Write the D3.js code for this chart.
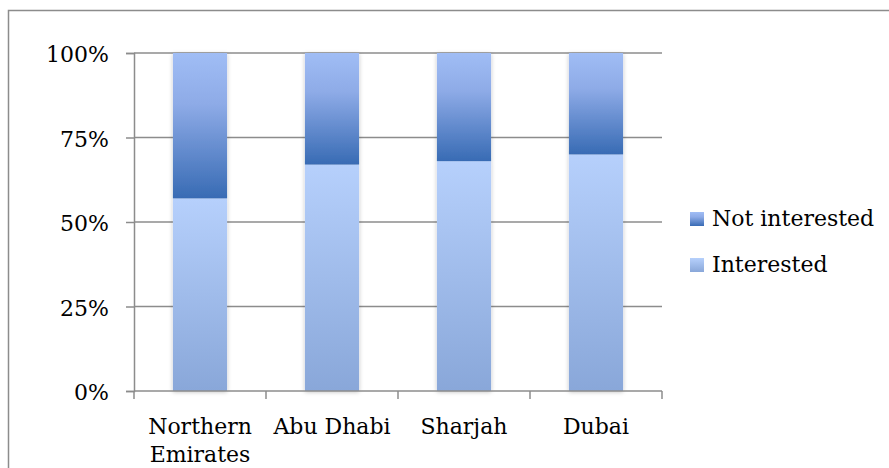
<!DOCTYPE html>
<html>
<head>
<meta charset="utf-8">
<script src="https://cdn.jsdelivr.net/npm/d3@7"></script>
<style>
  body { margin: 0; background: #fff; }
  svg { display: block; font-family: "DejaVu Serif", serif; }
</style>
</head>
<body>
<svg id="chart" width="889" height="468"></svg>
<script>
// data
var categories = ["Northern Emirates", "Abu Dhabi", "Sharjah", "Dubai"];
var interested = [0.57, 0.67, 0.68, 0.70];
var notInterested = [0.43, 0.33, 0.32, 0.30];
var seriesNames = ["Interested", "Not interested"];
var yTicks = [0, 0.25, 0.5, 0.75, 1];

var svg = d3.select("#chart"),
    width = +svg.attr("width"),
    height = +svg.attr("height");

var plot = {left: 134, right: 662, top: 53, bottom: 391};

// outer frame (runs off the right and bottom edges)
svg.append("rect")
    .attr("x", 8.5).attr("y", 10.5)
    .attr("width", 900).attr("height", 500)
    .attr("fill", "none")
    .attr("stroke", "#8c8c8c")
    .attr("stroke-width", 1.5);

var defs = svg.append("defs");

var gradInt = defs.append("linearGradient").attr("id", "gInt")
    .attr("x1", 0).attr("y1", 0).attr("x2", 0).attr("y2", 1);
gradInt.append("stop").attr("offset", "0%").attr("stop-color", "#b6d0fc");
gradInt.append("stop").attr("offset", "100%").attr("stop-color", "#89a7d9");

var gradNot = defs.append("linearGradient").attr("id", "gNot")
    .attr("x1", 0).attr("y1", 0).attr("x2", 0).attr("y2", 1);
gradNot.append("stop").attr("offset", "0%").attr("stop-color", "#a0bdf5");
gradNot.append("stop").attr("offset", "35%").attr("stop-color", "#8eabe7");
gradNot.append("stop").attr("offset", "100%").attr("stop-color", "#386bb4");

var shadow = defs.append("filter").attr("id", "shadow")
    .attr("x", "-30%").attr("y", "-5%").attr("width", "160%").attr("height", "110%");
shadow.append("feDropShadow")
    .attr("dx", 0).attr("dy", 1)
    .attr("stdDeviation", 2)
    .attr("flood-color", "#000")
    .attr("flood-opacity", 0.25);

// scales
var x = d3.scaleBand()
    .domain(categories)
    .range([plot.left, plot.right])
    .paddingInner(0.59)
    .paddingOuter(0.295);

var y = d3.scaleLinear()
    .domain([0, 1])
    .range([plot.bottom, plot.top]);

// gridlines
svg.append("g")
    .selectAll("line")
    .data(yTicks.slice(1))
    .enter()
    .append("line")
    .attr("x1", plot.left).attr("x2", plot.right)
    .attr("y1", d => y(d)).attr("y2", d => y(d))
    .attr("stroke", "#8c8c8c")
    .attr("stroke-width", 1.5);

// stacked bars
var table = categories.map(function(c, i) {
    return {cat: c, "Interested": interested[i], "Not interested": notInterested[i]};
});
var stacked = d3.stack().keys(seriesNames)(table);
var fills = {"Interested": "url(#gInt)", "Not interested": "url(#gNot)"};

var barsG = svg.append("g").attr("filter", "url(#shadow)");
stacked.forEach(function(layer) {
    barsG.append("g")
        .selectAll("rect")
        .data(layer)
        .enter()
        .append("rect")
        .attr("x", d => x(d.data.cat))
        .attr("width", x.bandwidth())
        .attr("y", d => y(d[1]))
        .attr("height", d => y(d[0]) - y(d[1]))
        .attr("fill", fills[layer.key]);
});

// y axis
var yAxis = svg.append("g")
    .attr("transform", "translate(" + plot.left + ",0)")
    .call(d3.axisLeft(y).tickValues(yTicks).tickFormat(d3.format(".0%")).tickSize(8).tickPadding(17));
yAxis.select(".domain").attr("stroke", "#8c8c8c").attr("stroke-width", 1.5);
yAxis.selectAll(".tick line").attr("stroke", "#8c8c8c").attr("stroke-width", 1.5);
yAxis.selectAll(".tick text")
    .attr("font-family", "DejaVu Serif")
    .attr("font-size", 22)
    .attr("fill", "#000")
    .attr("dy", "0.4em");

// x axis: ticks at the category boundaries
var xBounds = d3.range(categories.length + 1).map(i => plot.left + i * x.step());
var xAxis = svg.append("g");
xAxis.append("line")
    .attr("x1", plot.left).attr("x2", plot.right)
    .attr("y1", plot.bottom).attr("y2", plot.bottom)
    .attr("stroke", "#8c8c8c").attr("stroke-width", 1.5);
xAxis.selectAll(".xt")
    .data(xBounds)
    .enter()
    .append("line")
    .attr("x1", d => d).attr("x2", d => d)
    .attr("y1", plot.bottom).attr("y2", plot.bottom + 8)
    .attr("stroke", "#8c8c8c").attr("stroke-width", 1.5);

var xLabels = xAxis.selectAll(".xl")
    .data(categories)
    .enter()
    .append("text")
    .attr("x", d => x(d) + x.bandwidth() / 2)
    .attr("y", 434)
    .attr("text-anchor", "middle")
    .attr("font-size", 22)
    .attr("fill", "#000");
xLabels.each(function(d) {
    var t = d3.select(this);
    var parts = d === "Northern Emirates" ? ["Northern", "Emirates"] : [d];
    parts.forEach(function(p, i) {
        t.append("tspan")
            .attr("x", x(d) + x.bandwidth() / 2)
            .attr("dy", i === 0 ? 0 : 28)
            .text(p);
    });
});

// legend
var legendItems = ["Not interested", "Interested"];
var legend = svg.append("g");
legendItems.forEach(function(name, i) {
    var ly = 212 + i * 46;
    legend.append("rect")
        .attr("x", 690).attr("y", ly)
        .attr("width", 14).attr("height", 14)
        .attr("fill", fills[name]);
    legend.append("text")
        .attr("x", 712).attr("y", ly + 14)
        .attr("font-size", 22)
        .attr("fill", "#000")
        .text(name);
});
</script>
</body>
</html>
